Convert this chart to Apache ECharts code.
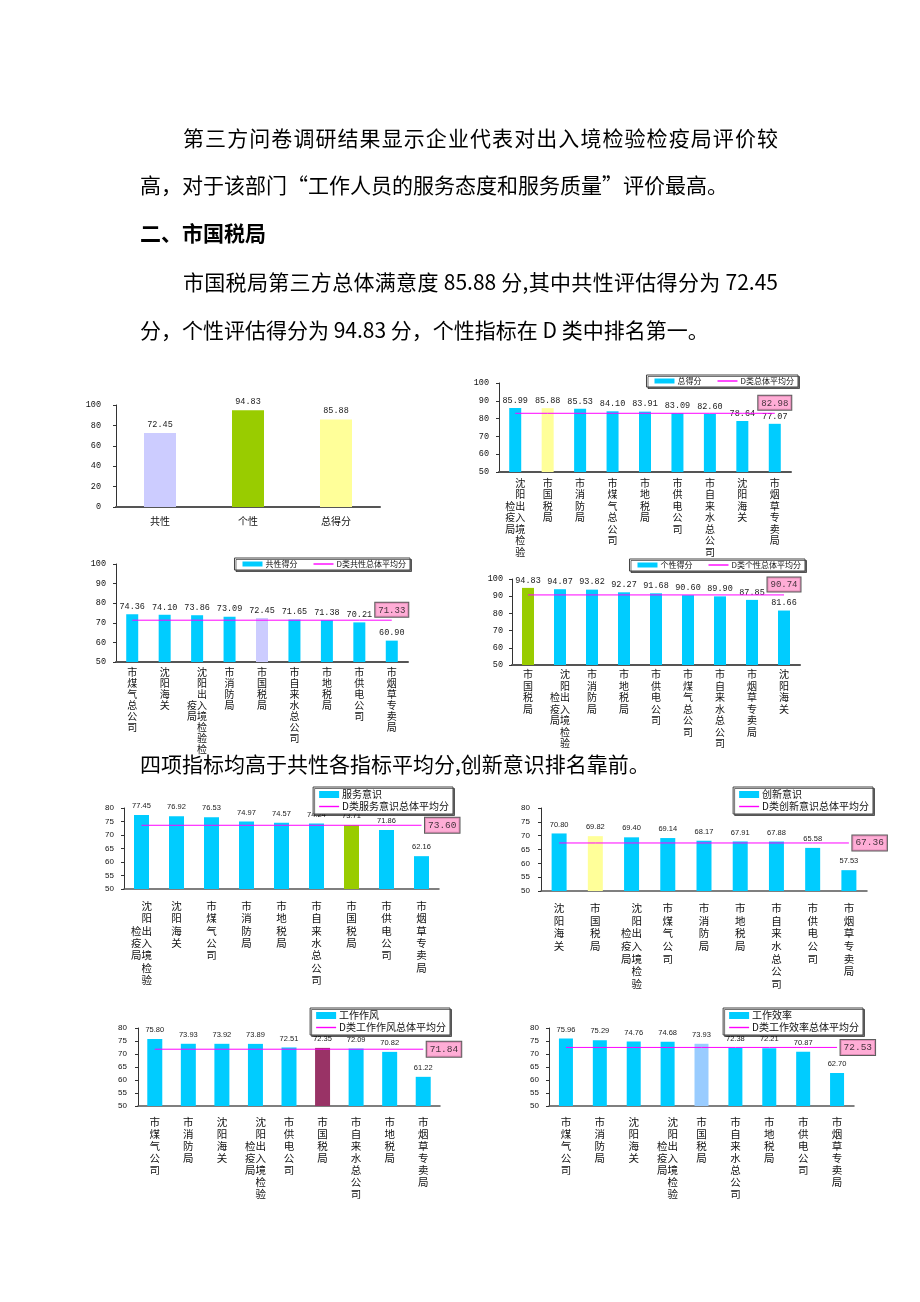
<!DOCTYPE html>
<html><head><meta charset="utf-8">
<script src="https://cdn.jsdelivr.net/npm/echarts@6/dist/echarts.min.js"></script>
<style>
html,body{margin:0;padding:0;background:#fff;}
#page{position:relative;width:920px;height:1302px;overflow:hidden;background:#fff;}
#chart{position:absolute;left:0;top:0;width:920px;height:1302px;}
.t{position:absolute;font-family:"Noto Sans CJK SC",sans-serif;font-size:21px;line-height:24px;color:#000;white-space:nowrap;z-index:2;}
.j{text-align:justify;text-align-last:justify;white-space:normal;}
.b{font-weight:bold;}
</style></head>
<body>
<div id="page">
<div id="chart"></div>
<div class="t j" style="left:183px;top:125px;width:595px;">第三方问卷调研结果显示企业代表对出入境检验检疫局评价较</div>
<div class="t" style="left:140px;top:172px;">高，对于该部门“工作人员的服务态度和服务质量”评价最高。</div>
<div class="t b" style="left:140px;top:220px;">二、市国税局</div>
<div class="t j" style="left:183px;top:269px;width:595px;">市国税局第三方总体满意度 85.88 分,其中共性评估得分为 72.45</div>
<div class="t" style="left:140px;top:317px;">分，个性评估得分为 94.83 分，个性指标在 D 类中排名第一。</div>
<div class="t" style="left:140px;top:751px;">四项指标均高于共性各指标平均分,创新意识排名靠前。</div>
</div>
<script>
// ---------- data ----------
const summaryCategories = ['共性','个性','总得分'];
const summaryValues = [72.45, 94.83, 85.88];

const totalCategories = ['沈阳出入境检验检疫局','市国税局','市消防局','市煤气总公司','市地税局','市供电公司','市自来水总公司','沈阳海关','市烟草专卖局'];
const totalValues = [85.99,85.88,85.53,84.10,83.91,83.09,82.60,78.64,77.07];
const totalAverage = 82.98;

const commonCategories = ['市煤气总公司','沈阳海关','沈阳出入境检验检疫局','市消防局','市国税局','市自来水总公司','市地税局','市供电公司','市烟草专卖局'];
const commonValues = [74.36,74.10,73.86,73.09,72.45,71.65,71.38,70.21,60.90];
const commonAverage = 71.33;

const individualCategories = ['市国税局','沈阳出入境检验检疫局','市消防局','市地税局','市供电公司','市煤气总公司','市自来水总公司','市烟草专卖局','沈阳海关'];
const individualValues = [94.83,94.07,93.82,92.27,91.68,90.60,89.90,87.85,81.66];
const individualAverage = 90.74;

const serviceCategories = ['沈阳出入境检验检疫局','沈阳海关','市煤气公司','市消防局','市地税局','市自来水总公司','市国税局','市供电公司','市烟草专卖局'];
const serviceValues = [77.45,76.92,76.53,74.97,74.57,74.24,73.71,71.86,62.16];
const serviceAverage = 73.60;

const innovationCategories = ['沈阳海关','市国税局','沈阳出入境检验检疫局','市煤气公司','市消防局','市地税局','市自来水总公司','市供电公司','市烟草专卖局'];
const innovationValues = [70.80,69.82,69.40,69.14,68.17,67.91,67.88,65.58,57.53];
const innovationAverage = 67.36;

const styleCategories = ['市煤气公司','市消防局','沈阳海关','沈阳出入境检验检疫局','市供电公司','市国税局','市自来水总公司','市地税局','市烟草专卖局'];
const styleValues = [75.80,73.93,73.92,73.89,72.51,72.35,72.09,70.82,61.22];
const styleAverage = 71.84;

const efficiencyCategories = ['市煤气公司','市消防局','沈阳海关','沈阳出入境检验检疫局','市国税局','市自来水总公司','市地税局','市供电公司','市烟草专卖局'];
const efficiencyValues = [75.96,75.29,74.76,74.68,73.93,72.38,72.21,70.87,62.70];
const efficiencyAverage = 72.53;

// ---------- styling ----------
const MONO = '"Liberation Mono","DejaVu Sans Mono",monospace';
const SANS = '"Liberation Sans",Arial,sans-serif';
const CJK = '"Noto Sans CJK SC",sans-serif';
const BAR = '#00ccff';
const AVG = '#ff00ff';
const BOX = '#ff99cc';
const FOCUS = '市国税局';
const LINE_ICON = 'path://M0,0H20V1.4H0Z';

function vertical(name, variant) {
  const ch = [...name];
  if (ch.length <= 7) return ch.join('\n');
  const n = variant === 'b' ? 8 : 7;
  const start = variant === 'b' ? 3 : 2;
  const right = ch.slice(0, n), left = ch.slice(n);
  return right.map((c, i) => {
    const l = (i >= start && left[i - start] !== undefined) ? left[i - start] : '\u3000';
    return l + c;
  }).join('\n');
}

const grid = [], xAxis = [], yAxis = [], series = [], legend = [];

function addPanel(p) {
  const gi = grid.length;
  grid.push({left: p.g[0], top: p.g[1], width: p.g[2], height: p.g[3], containLabel: false});
  const top = p.kind === 'top';
  xAxis.push({
    type: 'category', gridIndex: gi, data: p.cats,
    axisLine: {show: true, lineStyle: {color: '#555', width: top ? 2 : 1.5}},
    axisTick: {show: false},
    axisLabel: {
      interval: 0, margin: p.lm, color: '#111', fontFamily: CJK,
      fontSize: p.xfs || 10, lineHeight: p.lh,
      formatter: v => p.horiz ? v : vertical(v, p.variant)
    },
    splitLine: {show: false}
  });
  yAxis.push({
    type: 'value', gridIndex: gi, min: p.y[0], max: p.y[1], interval: p.y[2],
    axisLine: {show: true, lineStyle: {color: '#333', width: 1}},
    axisTick: {show: true, length: 3, lineStyle: {color: '#333'}},
    splitLine: {show: false},
    axisLabel: {margin: p.ym, color: '#111', fontFamily: top ? MONO : SANS, fontSize: top ? 8.5 : 8}
  });
  series.push({
    type: 'bar', name: p.barName, xAxisIndex: gi, yAxisIndex: gi,
    barWidth: p.bw,
    itemStyle: {color: BAR},
    data: p.vals.map((v, i) => {
      let c = BAR;
      if (p.colors) c = p.colors[i];
      else if (p.cats[i] === FOCUS) c = p.focus;
      return {value: v, itemStyle: {color: c}};
    }),
    label: {
      show: true, position: 'top', distance: p.vd || 3,
      fontFamily: top ? MONO : SANS, fontSize: top ? 8.5 : 7.5, color: '#222',
      formatter: o => o.value.toFixed(2)
    },
    z: 2
  });
  if (p.avg !== undefined) {
    series.push({
      type: 'line', name: p.lineName, xAxisIndex: gi, yAxisIndex: gi,
      symbol: 'none', lineStyle: {color: AVG, width: 1}, itemStyle: {color: AVG},
      data: p.cats.map(() => p.avg), z: 3
    });
    series.push({
      type: 'scatter', xAxisIndex: gi, yAxisIndex: gi,
      symbol: 'circle', symbolSize: 1, itemStyle: {color: 'rgba(0,0,0,0)'},
      data: [[p.cats[p.cats.length - 1], p.avg]],
      label: {
        show: true, position: top ? 'top' : 'right', distance: 3,
        fontFamily: MONO, fontSize: top ? 9 : 9.5, color: '#111',
        backgroundColor: BOX, borderColor: '#333', borderWidth: 1,
        padding: [3, 3, 2, 3],
        formatter: o => o.value[1].toFixed(2)
      },
      z: 5, silent: true
    });
    legend.push(Object.assign({
      orient: top ? 'horizontal' : 'vertical',
      data: [{name: p.barName, icon: 'rect'}, {name: p.lineName, icon: LINE_ICON}],
      symbolKeepAspect: true,
      itemWidth: 20, itemHeight: top ? 5 : 7, itemGap: top ? 16 : 1,
      padding: top ? [1, 4, 1, 8] : [2, 4, 2, 6],
      borderColor: '#444', borderWidth: 1,
      shadowColor: 'rgba(0,0,0,0.55)', shadowOffsetX: 1.5, shadowOffsetY: 1.5, shadowBlur: 0,
      backgroundColor: '#fff',
      textStyle: {fontFamily: CJK, fontSize: top ? 8 : 10, color: '#111', lineHeight: top ? 10 : 11, padding: [0, 0, 0, -2]},
      selectedMode: false
    }, p.legend));
  }
}

// chart 1: 共性 / 个性 / 总得分
addPanel({kind: 'top', g: [116, 405, 264, 102], cats: summaryCategories, vals: summaryValues,
  colors: ['#ccccff', '#99cc00', '#ffff99'], y: [0, 100, 20], bw: 32, lm: 8, lh: 12, ym: 15,
  horiz: true, barName: '评估得分', vd: 4});
// chart 2: 总得分
addPanel({kind: 'top', g: [499, 383, 292, 89], cats: totalCategories, vals: totalValues, avg: totalAverage,
  focus: '#ffff99', y: [50, 100, 10], bw: 12, lm: 5, lh: 11.5, ym: 10,
  barName: '总得分', lineName: 'D类总体平均分', legend: {right: 122, top: 375}});
// chart 3: 共性得分
addPanel({kind: 'top', g: [116, 564, 292, 98], cats: commonCategories, vals: commonValues, avg: commonAverage,
  focus: '#ccccff', y: [50, 100, 10], bw: 12, lm: 4.5, lh: 11, ym: 10, variant: 'b',
  barName: '共性得分', lineName: 'D类共性总体平均分', legend: {right: 510, top: 558}});
// chart 4: 个性得分
addPanel({kind: 'top', g: [512, 579, 288, 86], cats: individualCategories, vals: individualValues, avg: individualAverage,
  focus: '#99cc00', y: [50, 100, 10], bw: 12, lm: 3.5, lh: 11.5, ym: 9,
  barName: '个性得分', lineName: 'D类个性总体平均分', legend: {right: 115, top: 559}});
// chart 5: 服务意识
addPanel({kind: 'bottom', g: [124, 808, 315, 81], cats: serviceCategories, vals: serviceValues, avg: serviceAverage,
  focus: '#99cc00', y: [50, 80, 5], bw: 15, lm: 11, lh: 12.3, ym: 10, xfs: 10.5, vd: 5,
  barName: '服务意识', lineName: 'D类服务意识总体平均分', legend: {right: 467, top: 787}});
// chart 6: 创新意识
addPanel({kind: 'bottom', g: [541, 808, 326, 83], cats: innovationCategories, vals: innovationValues, avg: innovationAverage,
  focus: '#ffff99', y: [50, 80, 5], bw: 15, lm: 10.5, lh: 12.7, ym: 11, xfs: 10.5, vd: 5,
  barName: '创新意识', lineName: 'D类创新意识总体平均分', legend: {right: 47, top: 787}});
// chart 7: 工作作风
addPanel({kind: 'bottom', g: [138, 1028, 302, 78], cats: styleCategories, vals: styleValues, avg: styleAverage,
  focus: '#993366', y: [50, 80, 5], bw: 15, lm: 10, lh: 12, ym: 11, xfs: 10.5, vd: 5,
  barName: '工作作风', lineName: 'D类工作作风总体平均分', legend: {right: 470, top: 1008}});
// chart 8: 工作效率
addPanel({kind: 'bottom', g: [549, 1028, 305, 78], cats: efficiencyCategories, vals: efficiencyValues, avg: efficiencyAverage,
  focus: '#99ccff', y: [50, 80, 5], bw: 14, lm: 10, lh: 12, ym: 10, xfs: 10.5, vd: 5,
  barName: '工作效率', lineName: 'D类工作效率总体平均分', legend: {right: 57, top: 1008}});

const chart = echarts.init(document.getElementById('chart'), null, {renderer: 'canvas'});
chart.setOption({animation: false, backgroundColor: 'transparent', grid, xAxis, yAxis, series, legend, tooltip: {show: false}});
</script>
</body></html>
